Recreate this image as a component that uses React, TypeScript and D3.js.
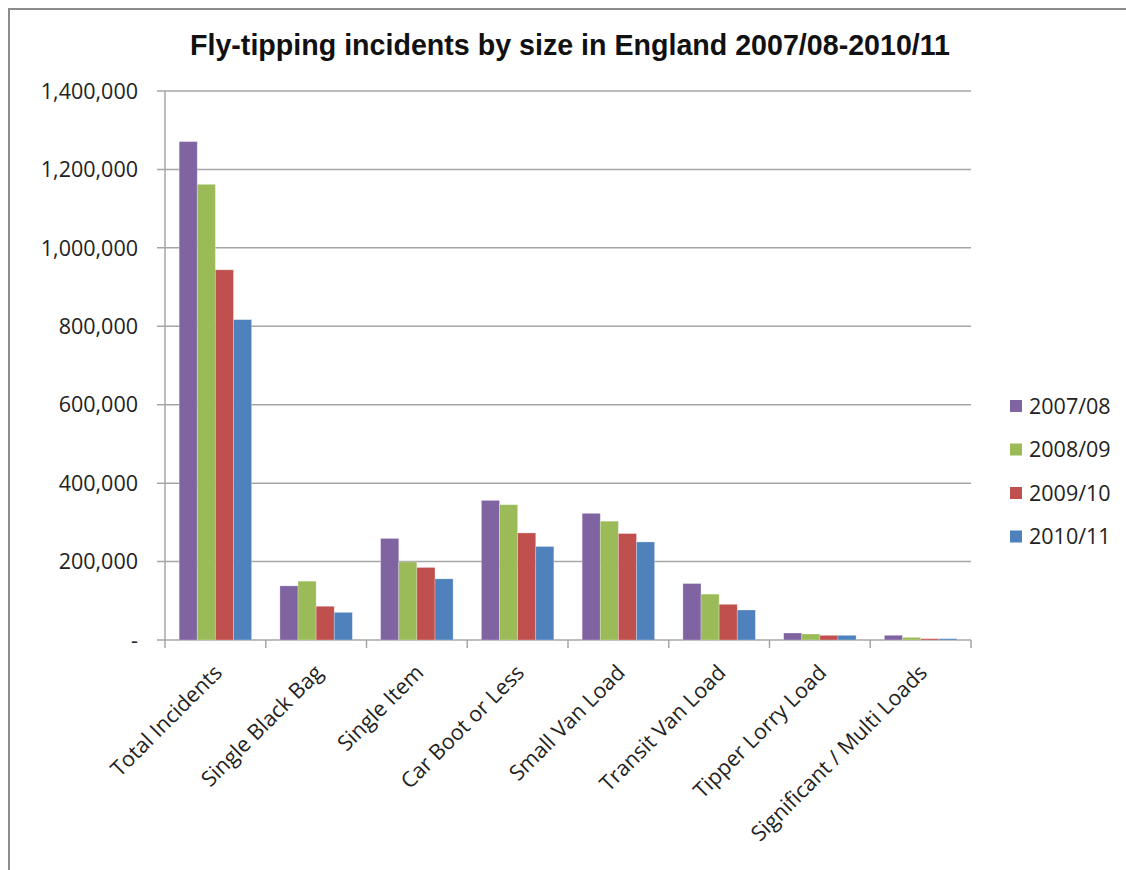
import React from "react";
import * as d3 from "d3";

const categories = [
  "Total Incidents",
  "Single Black Bag",
  "Single Item",
  "Car Boot or Less",
  "Small Van Load",
  "Transit Van Load",
  "Tipper Lorry Load",
  "Significant / Multi Loads",
];
const seriesNames = ["2007/08", "2008/09", "2009/10", "2010/11"];
const values2007 = [1271000, 138000, 259000, 356000, 323000, 144000, 17800, 12000];
const values2008 = [1162000, 150000, 199000, 345000, 303000, 117000, 15300, 6800];
const values2009 = [944000, 86000, 185000, 273000, 271500, 91000, 11900, 3400];
const values2010 = [817000, 70500, 156000, 238500, 250000, 76500, 11900, 3400];
const seriesValues = [values2007, values2008, values2009, values2010];
const colors = ["#8064A2", "#9BBB59", "#C0504D", "#4F81BD"];
const yTicks = [0, 200000, 400000, 600000, 800000, 1000000, 1200000, 1400000];
const title = "Fly-tipping incidents by size in England 2007/08-2010/11";

export default function App() {
  const left = 165, right = 971, top = 91, bottom = 640;
  const x = d3.scaleBand<string>().domain(categories).range([left, right]).paddingInner(0.281).paddingOuter(0.1405);
  const xs = d3.scaleBand<string>().domain(seriesNames).range([0, x.bandwidth()]);
  const y = d3.scaleLinear().domain([0, 1400000]).range([bottom, top]);
  const fmt = d3.format(",");
  const step = (right - left) / categories.length;
  const font = "'Open Sans', sans-serif";
  const grid = "#A6A6A6";

  return (
    <svg width={1126} height={870} style={{ position: "absolute", left: 0, top: 0, background: "#fff" }}>
      <rect x={0} y={0} width={1126} height={870} fill="#fff" />
      <path d={`M9,880 V9 H1140`} fill="none" stroke="#8C8C8C" strokeWidth={2} />
      <text x={570} y={55} textAnchor="middle" fontFamily="'Liberation Sans', Arial, sans-serif" fontWeight="bold" fontSize={29} textLength={760} lengthAdjust="spacingAndGlyphs" fill="#111">{title}</text>

      {yTicks.map((t) => (
        <g key={t}>
          <line x1={left - 8} x2={right} y1={y(t)} y2={y(t)} stroke={grid} strokeWidth={1.5} />
          <text x={138} y={y(t)} dy="0.36em" textAnchor="end" fontFamily={font} fontSize={21.5} fill="#222">{t === 0 ? "-" : fmt(t)}</text>
        </g>
      ))}
      <line x1={left} x2={left} y1={top} y2={bottom} stroke={grid} strokeWidth={1.5} />
      {d3.range(categories.length + 1).map((i) => (
        <line key={i} x1={left + i * step} x2={left + i * step} y1={bottom} y2={bottom + 8} stroke={grid} strokeWidth={1.5} />
      ))}

      {categories.map((c, ci) => (
        <g key={c}>
          {seriesNames.map((s, si) => {
            const v = seriesValues[si][ci];
            return (
              <rect key={s} x={(x(c) as number) + (xs(s) as number)} y={y(v)} width={xs.bandwidth()} height={bottom - y(v)} fill={colors[si]} stroke="rgba(255,255,255,0.35)" strokeWidth={0.75} />
            );
          })}
        </g>
      ))}

      {categories.map((c) => {
        const cx = (x(c) as number) + x.bandwidth() / 2;
        return (
          <text key={c} transform={`translate(${cx + 8},${bottom + 34}) rotate(-45)`} textAnchor="end" fontFamily={font} fontSize={21.5} fill="#222">{c}</text>
        );
      })}

      {seriesNames.map((s, i) => {
        const cy = 406 + i * 43.5;
        return (
          <g key={s}>
            <rect x={1010} y={cy - 6} width={12} height={12} fill={colors[i]} />
            <text x={1029} y={cy} dy="0.36em" fontFamily={font} fontSize={21.5} fill="#222">{s}</text>
          </g>
        );
      })}
    </svg>
  );
}
